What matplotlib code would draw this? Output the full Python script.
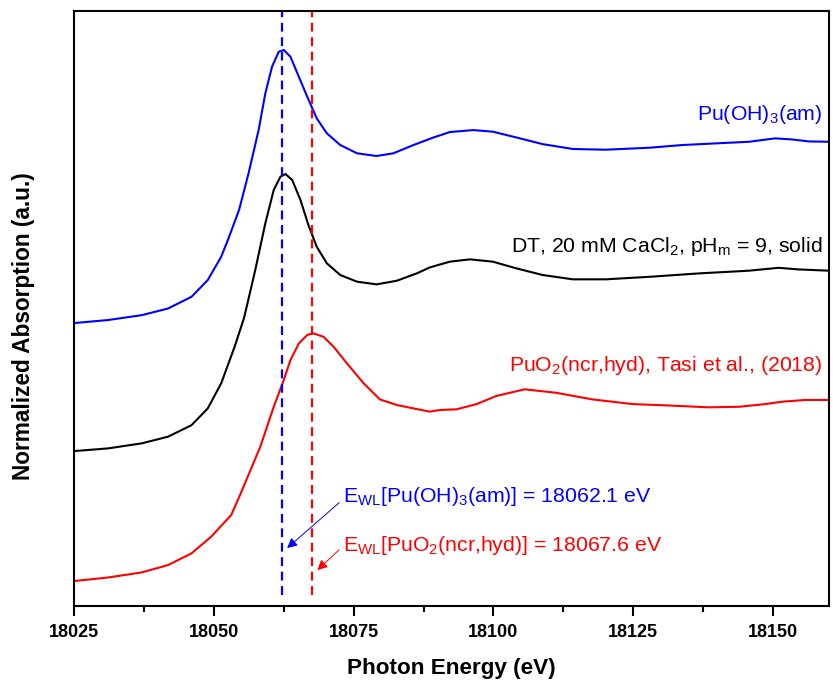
import numpy as np
import matplotlib.pyplot as plt

plt.rcParams['font.family'] = ['Liberation Sans', 'DejaVu Sans']
plt.rcParams['mathtext.fontset'] = 'custom'
plt.rcParams['mathtext.rm'] = 'Liberation Sans'
plt.rcParams['mathtext.it'] = 'Liberation Sans'
plt.rcParams['mathtext.default'] = 'regular'

# normalized XANES spectra (edge step = 1), read point by point
E_RED = [18025, 18031.1, 18037.1, 18041.8, 18046, 18049.5, 18053.1, 18054.8,
         18058.3, 18060.7, 18062.5, 18063.7, 18065.2, 18066.7, 18067.8, 18069.6, 18071.4,
         18073.8, 18076.8, 18079.7, 18082.7, 18085.7, 18088.6, 18090.4, 18093.4, 18097,
         18100.5, 18105.6, 18111.2, 18117.7, 18124.9, 18130.8, 18138.5, 18143.9, 18148.6,
         18151.6, 18155.8, 18160]
Y_RED = [0.0, 0.02, 0.048, 0.089, 0.154, 0.246, 0.367, 0.487,
         0.746, 0.968, 1.117, 1.228, 1.32, 1.367, 1.376, 1.357, 1.302,
         1.209, 1.098, 1.009, 0.978, 0.959, 0.941, 0.95, 0.954, 0.983,
         1.028, 1.065, 1.046, 1.009, 0.983, 0.976, 0.965, 0.968, 0.983,
         0.996, 1.006, 1.006]

E_BLACK = [18025, 18031.1, 18037.1, 18041.8, 18046, 18048.9, 18051.3, 18053.7, 18055.4,
           18057.4, 18059.2, 18060.7, 18061.9, 18062.8, 18064, 18065.5, 18066.9, 18068.4,
           18070.2, 18072.6, 18075.6, 18079.1, 18082.7, 18086.3, 18088.6, 18092.2, 18095.8,
           18099.9, 18104.1, 18108.8, 18114.2, 18120.1, 18127.9, 18136.8, 18145.7, 18151,
           18154.6, 18160]
Y_BLACK = [0.0, 0.015, 0.043, 0.08, 0.144, 0.237, 0.376, 0.579, 0.74,
           1.006, 1.265, 1.45, 1.524, 1.539, 1.506, 1.394, 1.256, 1.135,
           1.043, 0.978, 0.941, 0.926, 0.946, 0.987, 1.02, 1.052, 1.065,
           1.052, 1.015, 0.978, 0.954, 0.954, 0.968, 0.987, 1.002, 1.018,
           1.009, 1.002]

E_BLUE = [18025, 18031.1, 18037.1, 18041.8, 18046, 18048.9, 18051.3, 18052.5, 18054.5,
          18056.2, 18058, 18059.2, 18060.4, 18061.6, 18062.5, 18063.7, 18065.2, 18066.7,
          18068.4, 18070.2, 18072.6, 18075.6, 18079.1, 18082.1, 18085.7, 18089.2, 18092.2,
          18096.4, 18099.9, 18104.1, 18108.8, 18114.2, 18120.1, 18127.9, 18133.8, 18139.7,
          18145.7, 18150.4, 18153.4, 18156.4, 18160]
Y_BLUE = [0.0, 0.017, 0.044, 0.081, 0.146, 0.239, 0.368, 0.461, 0.628,
          0.832, 1.072, 1.276, 1.424, 1.507, 1.517, 1.479, 1.368, 1.257,
          1.137, 1.054, 0.989, 0.943, 0.928, 0.943, 0.989, 1.03, 1.061,
          1.072, 1.063, 1.031, 0.994, 0.967, 0.963, 0.974, 0.989, 0.998,
          1.007, 1.026, 1.02, 1.009, 1.007]

OFFSETS = [0.0, 0.722, 1.433]   # red, black, blue
E_WL_OH3 = 18062.1
E_WL_PUO2 = 18067.6

fig, ax = plt.subplots(figsize=(8.33, 6.81), dpi=100)
fig.subplots_adjust(left=0.089, right=0.995, top=0.984, bottom=0.11)

ax.plot(E_BLUE, np.array(Y_BLUE) + OFFSETS[2], color='#0000ff', lw=1.5)
ax.plot(E_BLACK, np.array(Y_BLACK) + OFFSETS[1], color='black', lw=1.5)
ax.plot(E_RED, np.array(Y_RED) + OFFSETS[0], color='#ff0000', lw=1.5)

ax.vlines(E_WL_OH3, -0.078, 3.2, colors='#0000ff', linestyles=(0, (4, 2.5)), lw=1.6)
ax.vlines(E_WL_PUO2, -0.078, 3.2, colors='#ff0000', linestyles=(0, (4, 2.5)), lw=1.6)

fs = 15.3
ax.text(18158.9, 2.59, r'Pu(OH)$_3$(am)', color='#0000ff', fontsize=fs,
        ha='right', va='center')
ax.text(18158.9, 1.856, r'DT, 20 mM CaCl$_2$, pH$_\mathrm{m}$ = 9, solid', color='black',
        fontsize=fs, ha='right', va='center')
ax.text(18158.9, 1.2, r'PuO$_2$(ncr,hyd), Tasi et al., (2018)', color='#ff0000',
        fontsize=fs, ha='right', va='center')

ax.annotate(r'E$_\mathrm{WL}$[Pu(OH)$_3$(am)] = ' + f'{E_WL_OH3} eV',
            xy=(18063.1, 0.183), xytext=(18073.1, 0.467), color='#0000ff',
            fontsize=fs, va='center', ha='left',
            arrowprops=dict(arrowstyle='-|>', color='#0000ff', lw=0.7,
                            mutation_scale=15, shrinkA=1, shrinkB=0,
                            relpos=(0, 0.4)))
ax.annotate(r'E$_\mathrm{WL}$[PuO$_2$(ncr,hyd)] = ' + f'{E_WL_PUO2} eV',
            xy=(18068.5, 0.061), xytext=(18073.1, 0.2), color='#ff0000',
            fontsize=fs, va='center', ha='left',
            arrowprops=dict(arrowstyle='-|>', color='#ff0000', lw=0.7,
                            mutation_scale=15, shrinkA=1, shrinkB=0,
                            relpos=(0, 0.45)))

ax.set_xlim(18025, 18160)
ax.set_ylim(-0.139, 3.167)
ax.set_xticks([18025, 18050, 18075, 18100, 18125, 18150])
ax.set_xticks(np.arange(18037.5, 18160, 25), minor=True)
ax.set_yticks([])
ax.tick_params(axis='x', which='major', direction='out', length=7, width=1.5,
               labelsize=13, pad=6)
ax.tick_params(axis='x', which='minor', direction='out', length=4, width=1.5)
for lbl in ax.get_xticklabels():
    lbl.set_fontweight('bold')
for sp in ax.spines.values():
    sp.set_linewidth(1.5)

ax.set_xlabel('Photon Energy (eV)', fontsize=16.2, fontweight='bold', labelpad=12)
ax.set_ylabel('Normalized Absorption (a.u.)', fontsize=16.3, fontweight='bold')
ax.yaxis.set_label_coords(-0.052, 0.47)

fig.savefig('out.png', dpi=100)
